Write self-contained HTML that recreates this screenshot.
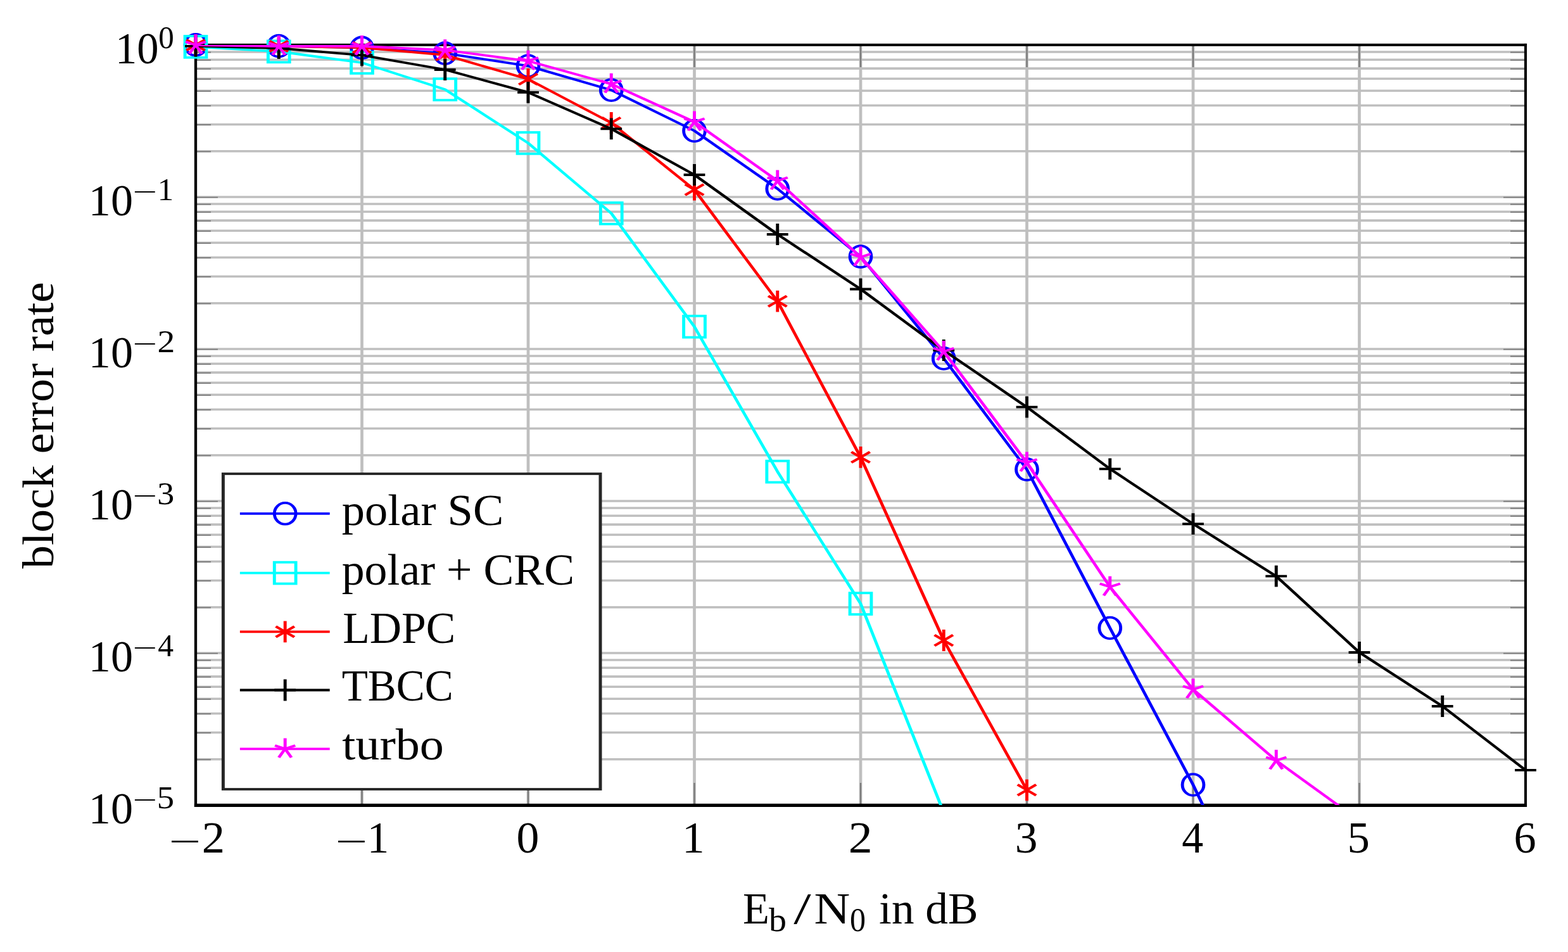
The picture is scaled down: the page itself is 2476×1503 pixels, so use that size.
<!DOCTYPE html><html><head><meta charset="utf-8"><style>html,body{margin:0;padding:0;background:#fff;}svg{display:block;}</style></head><body>
<svg width="2476" height="1503" viewBox="0 0 2476 1503" font-family="'Liberation Serif', serif">
<rect width="2476" height="1503" fill="#fff"/>
<g transform="scale(1.29,1)">
<g stroke="#bfbfbf" stroke-width="3.65">
<line x1="239.535" y1="81.98" x2="1867.442" y2="81.98"/>
<line x1="239.535" y1="94.26" x2="1867.442" y2="94.26"/>
<line x1="239.535" y1="108.18" x2="1867.442" y2="108.18"/>
<line x1="239.535" y1="124.24" x2="1867.442" y2="124.24"/>
<line x1="239.535" y1="143.25" x2="1867.442" y2="143.25"/>
<line x1="239.535" y1="166.51" x2="1867.442" y2="166.51"/>
<line x1="239.535" y1="196.49" x2="1867.442" y2="196.49"/>
<line x1="239.535" y1="238.75" x2="1867.442" y2="238.75"/>
<line x1="239.535" y1="311.00" x2="1867.442" y2="311.00"/>
<line x1="239.535" y1="321.98" x2="1867.442" y2="321.98"/>
<line x1="239.535" y1="334.26" x2="1867.442" y2="334.26"/>
<line x1="239.535" y1="348.18" x2="1867.442" y2="348.18"/>
<line x1="239.535" y1="364.24" x2="1867.442" y2="364.24"/>
<line x1="239.535" y1="383.25" x2="1867.442" y2="383.25"/>
<line x1="239.535" y1="406.51" x2="1867.442" y2="406.51"/>
<line x1="239.535" y1="436.49" x2="1867.442" y2="436.49"/>
<line x1="239.535" y1="478.75" x2="1867.442" y2="478.75"/>
<line x1="239.535" y1="551.00" x2="1867.442" y2="551.00"/>
<line x1="239.535" y1="561.98" x2="1867.442" y2="561.98"/>
<line x1="239.535" y1="574.26" x2="1867.442" y2="574.26"/>
<line x1="239.535" y1="588.18" x2="1867.442" y2="588.18"/>
<line x1="239.535" y1="604.24" x2="1867.442" y2="604.24"/>
<line x1="239.535" y1="623.25" x2="1867.442" y2="623.25"/>
<line x1="239.535" y1="646.51" x2="1867.442" y2="646.51"/>
<line x1="239.535" y1="676.49" x2="1867.442" y2="676.49"/>
<line x1="239.535" y1="718.75" x2="1867.442" y2="718.75"/>
<line x1="239.535" y1="791.00" x2="1867.442" y2="791.00"/>
<line x1="239.535" y1="801.98" x2="1867.442" y2="801.98"/>
<line x1="239.535" y1="814.26" x2="1867.442" y2="814.26"/>
<line x1="239.535" y1="828.18" x2="1867.442" y2="828.18"/>
<line x1="239.535" y1="844.24" x2="1867.442" y2="844.24"/>
<line x1="239.535" y1="863.25" x2="1867.442" y2="863.25"/>
<line x1="239.535" y1="886.51" x2="1867.442" y2="886.51"/>
<line x1="239.535" y1="916.49" x2="1867.442" y2="916.49"/>
<line x1="239.535" y1="958.75" x2="1867.442" y2="958.75"/>
<line x1="239.535" y1="1031.00" x2="1867.442" y2="1031.00"/>
<line x1="239.535" y1="1041.98" x2="1867.442" y2="1041.98"/>
<line x1="239.535" y1="1054.26" x2="1867.442" y2="1054.26"/>
<line x1="239.535" y1="1068.18" x2="1867.442" y2="1068.18"/>
<line x1="239.535" y1="1084.24" x2="1867.442" y2="1084.24"/>
<line x1="239.535" y1="1103.25" x2="1867.442" y2="1103.25"/>
<line x1="239.535" y1="1126.51" x2="1867.442" y2="1126.51"/>
<line x1="239.535" y1="1156.49" x2="1867.442" y2="1156.49"/>
<line x1="239.535" y1="1198.75" x2="1867.442" y2="1198.75"/>
<line x1="443.023" y1="71.0" x2="443.023" y2="1271.0"/>
<line x1="646.512" y1="71.0" x2="646.512" y2="1271.0"/>
<line x1="850.000" y1="71.0" x2="850.000" y2="1271.0"/>
<line x1="1053.488" y1="71.0" x2="1053.488" y2="1271.0"/>
<line x1="1256.977" y1="71.0" x2="1256.977" y2="1271.0"/>
<line x1="1460.465" y1="71.0" x2="1460.465" y2="1271.0"/>
<line x1="1663.953" y1="71.0" x2="1663.953" y2="1271.0"/>
</g>
<g stroke="#7c7c7c" stroke-width="1.9">
<line x1="443.023" y1="1271.0" x2="443.023" y2="1236.0"/>
<line x1="443.023" y1="71.0" x2="443.023" y2="106.0"/>
<line x1="646.512" y1="1271.0" x2="646.512" y2="1236.0"/>
<line x1="646.512" y1="71.0" x2="646.512" y2="106.0"/>
<line x1="850.000" y1="1271.0" x2="850.000" y2="1236.0"/>
<line x1="850.000" y1="71.0" x2="850.000" y2="106.0"/>
<line x1="1053.488" y1="1271.0" x2="1053.488" y2="1236.0"/>
<line x1="1053.488" y1="71.0" x2="1053.488" y2="106.0"/>
<line x1="1256.977" y1="1271.0" x2="1256.977" y2="1236.0"/>
<line x1="1256.977" y1="71.0" x2="1256.977" y2="106.0"/>
<line x1="1460.465" y1="1271.0" x2="1460.465" y2="1236.0"/>
<line x1="1460.465" y1="71.0" x2="1460.465" y2="106.0"/>
<line x1="1663.953" y1="1271.0" x2="1663.953" y2="1236.0"/>
<line x1="1663.953" y1="71.0" x2="1663.953" y2="106.0"/>
<line x1="239.535" y1="239.35" x2="258.140" y2="239.35"/>
<line x1="1867.442" y1="239.35" x2="1848.837" y2="239.35"/>
<line x1="239.535" y1="197.09" x2="258.140" y2="197.09"/>
<line x1="1867.442" y1="197.09" x2="1848.837" y2="197.09"/>
<line x1="239.535" y1="167.11" x2="258.140" y2="167.11"/>
<line x1="1867.442" y1="167.11" x2="1848.837" y2="167.11"/>
<line x1="239.535" y1="143.85" x2="258.140" y2="143.85"/>
<line x1="1867.442" y1="143.85" x2="1848.837" y2="143.85"/>
<line x1="239.535" y1="124.84" x2="258.140" y2="124.84"/>
<line x1="1867.442" y1="124.84" x2="1848.837" y2="124.84"/>
<line x1="239.535" y1="108.78" x2="258.140" y2="108.78"/>
<line x1="1867.442" y1="108.78" x2="1848.837" y2="108.78"/>
<line x1="239.535" y1="94.86" x2="258.140" y2="94.86"/>
<line x1="1867.442" y1="94.86" x2="1848.837" y2="94.86"/>
<line x1="239.535" y1="82.58" x2="258.140" y2="82.58"/>
<line x1="1867.442" y1="82.58" x2="1848.837" y2="82.58"/>
<line x1="239.535" y1="311.60" x2="266.667" y2="311.60"/>
<line x1="1867.442" y1="311.60" x2="1840.310" y2="311.60"/>
<line x1="239.535" y1="479.35" x2="258.140" y2="479.35"/>
<line x1="1867.442" y1="479.35" x2="1848.837" y2="479.35"/>
<line x1="239.535" y1="437.09" x2="258.140" y2="437.09"/>
<line x1="1867.442" y1="437.09" x2="1848.837" y2="437.09"/>
<line x1="239.535" y1="407.11" x2="258.140" y2="407.11"/>
<line x1="1867.442" y1="407.11" x2="1848.837" y2="407.11"/>
<line x1="239.535" y1="383.85" x2="258.140" y2="383.85"/>
<line x1="1867.442" y1="383.85" x2="1848.837" y2="383.85"/>
<line x1="239.535" y1="364.84" x2="258.140" y2="364.84"/>
<line x1="1867.442" y1="364.84" x2="1848.837" y2="364.84"/>
<line x1="239.535" y1="348.78" x2="258.140" y2="348.78"/>
<line x1="1867.442" y1="348.78" x2="1848.837" y2="348.78"/>
<line x1="239.535" y1="334.86" x2="258.140" y2="334.86"/>
<line x1="1867.442" y1="334.86" x2="1848.837" y2="334.86"/>
<line x1="239.535" y1="322.58" x2="258.140" y2="322.58"/>
<line x1="1867.442" y1="322.58" x2="1848.837" y2="322.58"/>
<line x1="239.535" y1="551.60" x2="266.667" y2="551.60"/>
<line x1="1867.442" y1="551.60" x2="1840.310" y2="551.60"/>
<line x1="239.535" y1="719.35" x2="258.140" y2="719.35"/>
<line x1="1867.442" y1="719.35" x2="1848.837" y2="719.35"/>
<line x1="239.535" y1="677.09" x2="258.140" y2="677.09"/>
<line x1="1867.442" y1="677.09" x2="1848.837" y2="677.09"/>
<line x1="239.535" y1="647.11" x2="258.140" y2="647.11"/>
<line x1="1867.442" y1="647.11" x2="1848.837" y2="647.11"/>
<line x1="239.535" y1="623.85" x2="258.140" y2="623.85"/>
<line x1="1867.442" y1="623.85" x2="1848.837" y2="623.85"/>
<line x1="239.535" y1="604.84" x2="258.140" y2="604.84"/>
<line x1="1867.442" y1="604.84" x2="1848.837" y2="604.84"/>
<line x1="239.535" y1="588.78" x2="258.140" y2="588.78"/>
<line x1="1867.442" y1="588.78" x2="1848.837" y2="588.78"/>
<line x1="239.535" y1="574.86" x2="258.140" y2="574.86"/>
<line x1="1867.442" y1="574.86" x2="1848.837" y2="574.86"/>
<line x1="239.535" y1="562.58" x2="258.140" y2="562.58"/>
<line x1="1867.442" y1="562.58" x2="1848.837" y2="562.58"/>
<line x1="239.535" y1="791.60" x2="266.667" y2="791.60"/>
<line x1="1867.442" y1="791.60" x2="1840.310" y2="791.60"/>
<line x1="239.535" y1="959.35" x2="258.140" y2="959.35"/>
<line x1="1867.442" y1="959.35" x2="1848.837" y2="959.35"/>
<line x1="239.535" y1="917.09" x2="258.140" y2="917.09"/>
<line x1="1867.442" y1="917.09" x2="1848.837" y2="917.09"/>
<line x1="239.535" y1="887.11" x2="258.140" y2="887.11"/>
<line x1="1867.442" y1="887.11" x2="1848.837" y2="887.11"/>
<line x1="239.535" y1="863.85" x2="258.140" y2="863.85"/>
<line x1="1867.442" y1="863.85" x2="1848.837" y2="863.85"/>
<line x1="239.535" y1="844.84" x2="258.140" y2="844.84"/>
<line x1="1867.442" y1="844.84" x2="1848.837" y2="844.84"/>
<line x1="239.535" y1="828.78" x2="258.140" y2="828.78"/>
<line x1="1867.442" y1="828.78" x2="1848.837" y2="828.78"/>
<line x1="239.535" y1="814.86" x2="258.140" y2="814.86"/>
<line x1="1867.442" y1="814.86" x2="1848.837" y2="814.86"/>
<line x1="239.535" y1="802.58" x2="258.140" y2="802.58"/>
<line x1="1867.442" y1="802.58" x2="1848.837" y2="802.58"/>
<line x1="239.535" y1="1031.60" x2="266.667" y2="1031.60"/>
<line x1="1867.442" y1="1031.60" x2="1840.310" y2="1031.60"/>
<line x1="239.535" y1="1199.35" x2="258.140" y2="1199.35"/>
<line x1="1867.442" y1="1199.35" x2="1848.837" y2="1199.35"/>
<line x1="239.535" y1="1157.09" x2="258.140" y2="1157.09"/>
<line x1="1867.442" y1="1157.09" x2="1848.837" y2="1157.09"/>
<line x1="239.535" y1="1127.11" x2="258.140" y2="1127.11"/>
<line x1="1867.442" y1="1127.11" x2="1848.837" y2="1127.11"/>
<line x1="239.535" y1="1103.85" x2="258.140" y2="1103.85"/>
<line x1="1867.442" y1="1103.85" x2="1848.837" y2="1103.85"/>
<line x1="239.535" y1="1084.84" x2="258.140" y2="1084.84"/>
<line x1="1867.442" y1="1084.84" x2="1848.837" y2="1084.84"/>
<line x1="239.535" y1="1068.78" x2="258.140" y2="1068.78"/>
<line x1="1867.442" y1="1068.78" x2="1848.837" y2="1068.78"/>
<line x1="239.535" y1="1054.86" x2="258.140" y2="1054.86"/>
<line x1="1867.442" y1="1054.86" x2="1848.837" y2="1054.86"/>
<line x1="239.535" y1="1042.58" x2="258.140" y2="1042.58"/>
<line x1="1867.442" y1="1042.58" x2="1848.837" y2="1042.58"/>
</g>
</g>
<g fill="#000">
<rect x="306.85" y="68.85" width="4.3" height="1205.15"/>
<rect x="2406.95" y="68.85" width="4.1" height="1205.15"/>
<rect x="306.85" y="68.85" width="2104.20" height="4.1"/>
<rect x="306.85" y="1268.8" width="2104.20" height="5.2"/>
</g>
<clipPath id="cb"><rect x="239.535" y="71.0" width="1627.907" height="1200.0"/></clipPath>
<g transform="scale(1.29,1)">
<g clip-path="url(#cb)"><polyline points="239.535,70.80 341.279,72.60 443.023,75.40 544.767,84.10 646.512,104.10 748.256,142.20 850.000,206.50 951.744,298.00 1053.488,405.10 1155.233,565.90 1256.977,741.10 1358.721,991.50 1460.465,1239.00 1562.209,1513.00" fill="none" stroke="#0000ff" stroke-width="3.8" stroke-linejoin="round"/></g>
<ellipse cx="239.535" cy="70.80" rx="13.101" ry="16.90" fill="none" stroke="#0000ff" stroke-width="3.8"/>
<ellipse cx="341.279" cy="72.60" rx="13.101" ry="16.90" fill="none" stroke="#0000ff" stroke-width="3.8"/>
<ellipse cx="443.023" cy="75.40" rx="13.101" ry="16.90" fill="none" stroke="#0000ff" stroke-width="3.8"/>
<ellipse cx="544.767" cy="84.10" rx="13.101" ry="16.90" fill="none" stroke="#0000ff" stroke-width="3.8"/>
<ellipse cx="646.512" cy="104.10" rx="13.101" ry="16.90" fill="none" stroke="#0000ff" stroke-width="3.8"/>
<ellipse cx="748.256" cy="142.20" rx="13.101" ry="16.90" fill="none" stroke="#0000ff" stroke-width="3.8"/>
<ellipse cx="850.000" cy="206.50" rx="13.101" ry="16.90" fill="none" stroke="#0000ff" stroke-width="3.8"/>
<ellipse cx="951.744" cy="298.00" rx="13.101" ry="16.90" fill="none" stroke="#0000ff" stroke-width="3.8"/>
<ellipse cx="1053.488" cy="405.10" rx="13.101" ry="16.90" fill="none" stroke="#0000ff" stroke-width="3.8"/>
<ellipse cx="1155.233" cy="565.90" rx="13.101" ry="16.90" fill="none" stroke="#0000ff" stroke-width="3.8"/>
<ellipse cx="1256.977" cy="741.10" rx="13.101" ry="16.90" fill="none" stroke="#0000ff" stroke-width="3.8"/>
<ellipse cx="1358.721" cy="991.50" rx="13.101" ry="16.90" fill="none" stroke="#0000ff" stroke-width="3.8"/>
<ellipse cx="1460.465" cy="1239.00" rx="13.101" ry="16.90" fill="none" stroke="#0000ff" stroke-width="3.8"/>
<g clip-path="url(#cb)"><polyline points="239.535,73.90 341.279,81.40 443.023,99.00 544.767,141.20 646.512,225.90 748.256,336.80 850.000,515.70 951.744,744.60 1053.488,953.10 1155.233,1283.00" fill="none" stroke="#00ffff" stroke-width="3.8" stroke-linejoin="round"/></g>
<rect x="226.434" y="57.00" width="26.202" height="33.80" fill="none" stroke="#00ffff" stroke-width="3.8"/>
<rect x="328.178" y="64.50" width="26.202" height="33.80" fill="none" stroke="#00ffff" stroke-width="3.8"/>
<rect x="429.922" y="82.10" width="26.202" height="33.80" fill="none" stroke="#00ffff" stroke-width="3.8"/>
<rect x="531.667" y="124.30" width="26.202" height="33.80" fill="none" stroke="#00ffff" stroke-width="3.8"/>
<rect x="633.411" y="209.00" width="26.202" height="33.80" fill="none" stroke="#00ffff" stroke-width="3.8"/>
<rect x="735.155" y="319.90" width="26.202" height="33.80" fill="none" stroke="#00ffff" stroke-width="3.8"/>
<rect x="836.899" y="498.80" width="26.202" height="33.80" fill="none" stroke="#00ffff" stroke-width="3.8"/>
<rect x="938.643" y="727.70" width="26.202" height="33.80" fill="none" stroke="#00ffff" stroke-width="3.8"/>
<rect x="1040.388" y="936.20" width="26.202" height="33.80" fill="none" stroke="#00ffff" stroke-width="3.8"/>
<g clip-path="url(#cb)"><polyline points="239.535,71.10 341.279,73.00 443.023,75.00 544.767,86.90 646.512,125.00 748.256,194.00 850.000,299.50 951.744,475.60 1053.488,721.90 1155.233,1011.00 1256.977,1247.30" fill="none" stroke="#ff0000" stroke-width="3.8" stroke-linejoin="round"/></g>
<path d="M239.535,71.10L250.880,62.65M239.535,71.10L239.535,54.20M239.535,71.10L228.189,62.65M239.535,71.10L228.189,79.55M239.535,71.10L239.535,88.00M239.535,71.10L250.880,79.55" stroke="#ff0000" stroke-width="3.8" fill="none"/>
<path d="M341.279,73.00L352.625,64.55M341.279,73.00L341.279,56.10M341.279,73.00L329.933,64.55M341.279,73.00L329.933,81.45M341.279,73.00L341.279,89.90M341.279,73.00L352.625,81.45" stroke="#ff0000" stroke-width="3.8" fill="none"/>
<path d="M443.023,75.00L454.369,66.55M443.023,75.00L443.023,58.10M443.023,75.00L431.678,66.55M443.023,75.00L431.678,83.45M443.023,75.00L443.023,91.90M443.023,75.00L454.369,83.45" stroke="#ff0000" stroke-width="3.8" fill="none"/>
<path d="M544.767,86.90L556.113,78.45M544.767,86.90L544.767,70.00M544.767,86.90L533.422,78.45M544.767,86.90L533.422,95.35M544.767,86.90L544.767,103.80M544.767,86.90L556.113,95.35" stroke="#ff0000" stroke-width="3.8" fill="none"/>
<path d="M646.512,125.00L657.857,116.55M646.512,125.00L646.512,108.10M646.512,125.00L635.166,116.55M646.512,125.00L635.166,133.45M646.512,125.00L646.512,141.90M646.512,125.00L657.857,133.45" stroke="#ff0000" stroke-width="3.8" fill="none"/>
<path d="M748.256,194.00L759.601,185.55M748.256,194.00L748.256,177.10M748.256,194.00L736.910,185.55M748.256,194.00L736.910,202.45M748.256,194.00L748.256,210.90M748.256,194.00L759.601,202.45" stroke="#ff0000" stroke-width="3.8" fill="none"/>
<path d="M850.000,299.50L861.346,291.05M850.000,299.50L850.000,282.60M850.000,299.50L838.654,291.05M850.000,299.50L838.654,307.95M850.000,299.50L850.000,316.40M850.000,299.50L861.346,307.95" stroke="#ff0000" stroke-width="3.8" fill="none"/>
<path d="M951.744,475.60L963.090,467.15M951.744,475.60L951.744,458.70M951.744,475.60L940.399,467.15M951.744,475.60L940.399,484.05M951.744,475.60L951.744,492.50M951.744,475.60L963.090,484.05" stroke="#ff0000" stroke-width="3.8" fill="none"/>
<path d="M1053.488,721.90L1064.834,713.45M1053.488,721.90L1053.488,705.00M1053.488,721.90L1042.143,713.45M1053.488,721.90L1042.143,730.35M1053.488,721.90L1053.488,738.80M1053.488,721.90L1064.834,730.35" stroke="#ff0000" stroke-width="3.8" fill="none"/>
<path d="M1155.233,1011.00L1166.578,1002.55M1155.233,1011.00L1155.233,994.10M1155.233,1011.00L1143.887,1002.55M1155.233,1011.00L1143.887,1019.45M1155.233,1011.00L1155.233,1027.90M1155.233,1011.00L1166.578,1019.45" stroke="#ff0000" stroke-width="3.8" fill="none"/>
<path d="M1256.977,1247.30L1268.322,1238.85M1256.977,1247.30L1256.977,1230.40M1256.977,1247.30L1245.631,1238.85M1256.977,1247.30L1245.631,1255.75M1256.977,1247.30L1256.977,1264.20M1256.977,1247.30L1268.322,1255.75" stroke="#ff0000" stroke-width="3.8" fill="none"/>
<g clip-path="url(#cb)"><polyline points="239.535,72.90 341.279,76.10 443.023,87.20 544.767,110.00 646.512,145.90 748.256,203.40 850.000,276.00 951.744,370.00 1053.488,456.50 1155.233,553.00 1256.977,642.70 1358.721,740.30 1460.465,827.10 1562.209,909.70 1663.953,1030.00 1765.698,1115.00 1867.442,1215.90" fill="none" stroke="#000000" stroke-width="3.8" stroke-linejoin="round"/></g>
<path d="M239.535,72.90L252.636,72.90M239.535,72.90L239.535,56.00M239.535,72.90L226.434,72.90M239.535,72.90L239.535,89.80" stroke="#000000" stroke-width="3.8" fill="none"/>
<path d="M341.279,76.10L354.380,76.10M341.279,76.10L341.279,59.20M341.279,76.10L328.178,76.10M341.279,76.10L341.279,93.00" stroke="#000000" stroke-width="3.8" fill="none"/>
<path d="M443.023,87.20L456.124,87.20M443.023,87.20L443.023,70.30M443.023,87.20L429.922,87.20M443.023,87.20L443.023,104.10" stroke="#000000" stroke-width="3.8" fill="none"/>
<path d="M544.767,110.00L557.868,110.00M544.767,110.00L544.767,93.10M544.767,110.00L531.667,110.00M544.767,110.00L544.767,126.90" stroke="#000000" stroke-width="3.8" fill="none"/>
<path d="M646.512,145.90L659.612,145.90M646.512,145.90L646.512,129.00M646.512,145.90L633.411,145.90M646.512,145.90L646.512,162.80" stroke="#000000" stroke-width="3.8" fill="none"/>
<path d="M748.256,203.40L761.357,203.40M748.256,203.40L748.256,186.50M748.256,203.40L735.155,203.40M748.256,203.40L748.256,220.30" stroke="#000000" stroke-width="3.8" fill="none"/>
<path d="M850.000,276.00L863.101,276.00M850.000,276.00L850.000,259.10M850.000,276.00L836.899,276.00M850.000,276.00L850.000,292.90" stroke="#000000" stroke-width="3.8" fill="none"/>
<path d="M951.744,370.00L964.845,370.00M951.744,370.00L951.744,353.10M951.744,370.00L938.643,370.00M951.744,370.00L951.744,386.90" stroke="#000000" stroke-width="3.8" fill="none"/>
<path d="M1053.488,456.50L1066.589,456.50M1053.488,456.50L1053.488,439.60M1053.488,456.50L1040.388,456.50M1053.488,456.50L1053.488,473.40" stroke="#000000" stroke-width="3.8" fill="none"/>
<path d="M1155.233,553.00L1168.333,553.00M1155.233,553.00L1155.233,536.10M1155.233,553.00L1142.132,553.00M1155.233,553.00L1155.233,569.90" stroke="#000000" stroke-width="3.8" fill="none"/>
<path d="M1256.977,642.70L1270.078,642.70M1256.977,642.70L1256.977,625.80M1256.977,642.70L1243.876,642.70M1256.977,642.70L1256.977,659.60" stroke="#000000" stroke-width="3.8" fill="none"/>
<path d="M1358.721,740.30L1371.822,740.30M1358.721,740.30L1358.721,723.40M1358.721,740.30L1345.620,740.30M1358.721,740.30L1358.721,757.20" stroke="#000000" stroke-width="3.8" fill="none"/>
<path d="M1460.465,827.10L1473.566,827.10M1460.465,827.10L1460.465,810.20M1460.465,827.10L1447.364,827.10M1460.465,827.10L1460.465,844.00" stroke="#000000" stroke-width="3.8" fill="none"/>
<path d="M1562.209,909.70L1575.310,909.70M1562.209,909.70L1562.209,892.80M1562.209,909.70L1549.109,909.70M1562.209,909.70L1562.209,926.60" stroke="#000000" stroke-width="3.8" fill="none"/>
<path d="M1663.953,1030.00L1677.054,1030.00M1663.953,1030.00L1663.953,1013.10M1663.953,1030.00L1650.853,1030.00M1663.953,1030.00L1663.953,1046.90" stroke="#000000" stroke-width="3.8" fill="none"/>
<path d="M1765.698,1115.00L1778.798,1115.00M1765.698,1115.00L1765.698,1098.10M1765.698,1115.00L1752.597,1115.00M1765.698,1115.00L1765.698,1131.90" stroke="#000000" stroke-width="3.8" fill="none"/>
<path d="M1867.442,1215.90L1880.543,1215.90M1867.442,1215.90L1854.341,1215.90" stroke="#000000" stroke-width="3.8" fill="none"/>
<g clip-path="url(#cb)"><polyline points="239.535,71.10 341.279,73.00 443.023,73.00 544.767,79.10 646.512,96.30 748.256,132.70 850.000,192.50 951.744,285.50 1053.488,405.90 1155.233,555.00 1256.977,730.50 1358.721,926.60 1460.465,1088.40 1562.209,1200.70 1663.953,1295.60" fill="none" stroke="#ff00ff" stroke-width="3.8" stroke-linejoin="round"/></g>
<path d="M239.535,71.10L239.535,54.20M239.535,71.10L227.075,65.88M239.535,71.10L231.834,84.77M239.535,71.10L247.235,84.77M239.535,71.10L251.994,65.88" stroke="#ff00ff" stroke-width="3.8" fill="none"/>
<path d="M341.279,73.00L341.279,56.10M341.279,73.00L328.819,67.78M341.279,73.00L333.579,86.67M341.279,73.00L348.980,86.67M341.279,73.00L353.739,67.78" stroke="#ff00ff" stroke-width="3.8" fill="none"/>
<path d="M443.023,73.00L443.023,56.10M443.023,73.00L430.564,67.78M443.023,73.00L435.323,86.67M443.023,73.00L450.724,86.67M443.023,73.00L455.483,67.78" stroke="#ff00ff" stroke-width="3.8" fill="none"/>
<path d="M544.767,79.10L544.767,62.20M544.767,79.10L532.308,73.88M544.767,79.10L537.067,92.77M544.767,79.10L552.468,92.77M544.767,79.10L557.227,73.88" stroke="#ff00ff" stroke-width="3.8" fill="none"/>
<path d="M646.512,96.30L646.512,79.40M646.512,96.30L634.052,91.08M646.512,96.30L638.811,109.97M646.512,96.30L654.212,109.97M646.512,96.30L658.971,91.08" stroke="#ff00ff" stroke-width="3.8" fill="none"/>
<path d="M748.256,132.70L748.256,115.80M748.256,132.70L735.796,127.48M748.256,132.70L740.555,146.37M748.256,132.70L755.956,146.37M748.256,132.70L760.715,127.48" stroke="#ff00ff" stroke-width="3.8" fill="none"/>
<path d="M850.000,192.50L850.000,175.60M850.000,192.50L837.540,187.28M850.000,192.50L842.300,206.17M850.000,192.50L857.700,206.17M850.000,192.50L862.460,187.28" stroke="#ff00ff" stroke-width="3.8" fill="none"/>
<path d="M951.744,285.50L951.744,268.60M951.744,285.50L939.285,280.28M951.744,285.50L944.044,299.17M951.744,285.50L959.445,299.17M951.744,285.50L964.204,280.28" stroke="#ff00ff" stroke-width="3.8" fill="none"/>
<path d="M1053.488,405.90L1053.488,389.00M1053.488,405.90L1041.029,400.68M1053.488,405.90L1045.788,419.57M1053.488,405.90L1061.189,419.57M1053.488,405.90L1065.948,400.68" stroke="#ff00ff" stroke-width="3.8" fill="none"/>
<path d="M1155.233,555.00L1155.233,538.10M1155.233,555.00L1142.773,549.78M1155.233,555.00L1147.532,568.67M1155.233,555.00L1162.933,568.67M1155.233,555.00L1167.692,549.78" stroke="#ff00ff" stroke-width="3.8" fill="none"/>
<path d="M1256.977,730.50L1256.977,713.60M1256.977,730.50L1244.517,725.28M1256.977,730.50L1249.276,744.17M1256.977,730.50L1264.677,744.17M1256.977,730.50L1269.436,725.28" stroke="#ff00ff" stroke-width="3.8" fill="none"/>
<path d="M1358.721,926.60L1358.721,909.70M1358.721,926.60L1346.261,921.38M1358.721,926.60L1351.020,940.27M1358.721,926.60L1366.421,940.27M1358.721,926.60L1371.181,921.38" stroke="#ff00ff" stroke-width="3.8" fill="none"/>
<path d="M1460.465,1088.40L1460.465,1071.50M1460.465,1088.40L1448.006,1083.18M1460.465,1088.40L1452.765,1102.07M1460.465,1088.40L1468.166,1102.07M1460.465,1088.40L1472.925,1083.18" stroke="#ff00ff" stroke-width="3.8" fill="none"/>
<path d="M1562.209,1200.70L1562.209,1183.80M1562.209,1200.70L1549.750,1195.48M1562.209,1200.70L1554.509,1214.37M1562.209,1200.70L1569.910,1214.37M1562.209,1200.70L1574.669,1195.48" stroke="#ff00ff" stroke-width="3.8" fill="none"/>
</g>
<text x="815.47" y="1346.20" font-size="69.5" textLength="35.86" lengthAdjust="spacingAndGlyphs">0</text>
<text x="1077.08" y="1346.20" font-size="69.5" textLength="35.65" lengthAdjust="spacingAndGlyphs">1</text>
<text x="1339.87" y="1346.20" font-size="69.5" textLength="37.92" lengthAdjust="spacingAndGlyphs">2</text>
<text x="1602.73" y="1346.20" font-size="69.5" textLength="35.71" lengthAdjust="spacingAndGlyphs">3</text>
<text x="1866.33" y="1346.20" font-size="69.5" textLength="33.88" lengthAdjust="spacingAndGlyphs">4</text>
<text x="2127.54" y="1346.20" font-size="69.5" textLength="35.37" lengthAdjust="spacingAndGlyphs">5</text>
<text x="2390.38" y="1346.20" font-size="69.5" textLength="35.11" lengthAdjust="spacingAndGlyphs">6</text>
<text x="266.62" y="1347.66" font-size="58" textLength="50.78" lengthAdjust="spacingAndGlyphs">−</text>
<text x="318.71" y="1346.20" font-size="69.5" textLength="36.30" lengthAdjust="spacingAndGlyphs">2</text>
<text x="529.62" y="1347.66" font-size="58" textLength="50.78" lengthAdjust="spacingAndGlyphs">−</text>
<text x="579.63" y="1346.20" font-size="69.5" textLength="34.51" lengthAdjust="spacingAndGlyphs">1</text>
<text x="181.88" y="99.90" font-size="69.5" textLength="68.53" lengthAdjust="spacingAndGlyphs">10</text>
<text x="250.23" y="76.00" font-size="51.7" textLength="24.54" lengthAdjust="spacingAndGlyphs">0</text>
<text x="139.84" y="339.80" font-size="69.5" textLength="70.14" lengthAdjust="spacingAndGlyphs">10</text>
<text x="209.59" y="316.70" font-size="42" textLength="38.66" lengthAdjust="spacingAndGlyphs">−</text>
<text x="248.63" y="315.90" font-size="51.7" textLength="25.42" lengthAdjust="spacingAndGlyphs">1</text>
<text x="139.84" y="579.80" font-size="69.5" textLength="70.14" lengthAdjust="spacingAndGlyphs">10</text>
<text x="209.59" y="556.70" font-size="42" textLength="38.66" lengthAdjust="spacingAndGlyphs">−</text>
<text x="248.46" y="555.90" font-size="51.7" textLength="27.81" lengthAdjust="spacingAndGlyphs">2</text>
<text x="139.84" y="819.80" font-size="69.5" textLength="70.14" lengthAdjust="spacingAndGlyphs">10</text>
<text x="209.59" y="796.70" font-size="42" textLength="38.66" lengthAdjust="spacingAndGlyphs">−</text>
<text x="248.32" y="795.90" font-size="51.7" textLength="26.99" lengthAdjust="spacingAndGlyphs">3</text>
<text x="139.84" y="1059.80" font-size="69.5" textLength="70.14" lengthAdjust="spacingAndGlyphs">10</text>
<text x="209.59" y="1036.70" font-size="42" textLength="38.66" lengthAdjust="spacingAndGlyphs">−</text>
<text x="249.13" y="1035.90" font-size="51.7" textLength="24.85" lengthAdjust="spacingAndGlyphs">4</text>
<text x="139.84" y="1299.80" font-size="69.5" textLength="70.14" lengthAdjust="spacingAndGlyphs">10</text>
<text x="209.59" y="1276.70" font-size="42" textLength="38.66" lengthAdjust="spacingAndGlyphs">−</text>
<text x="247.83" y="1275.90" font-size="51.7" textLength="27.31" lengthAdjust="spacingAndGlyphs">5</text>
<text x="1173.02" y="1457.50" font-size="69.5" textLength="41.89" lengthAdjust="spacingAndGlyphs">E</text>
<text x="1214.00" y="1470.30" font-size="52" textLength="27.93" lengthAdjust="spacingAndGlyphs">b</text>
<text x="1253.20" y="1457.50" font-size="69.5" textLength="27.40" lengthAdjust="spacingAndGlyphs">/</text>
<text x="1285.54" y="1457.50" font-size="69.5" textLength="56.77" lengthAdjust="spacingAndGlyphs">N</text>
<text x="1341.89" y="1470.30" font-size="52" textLength="25.01" lengthAdjust="spacingAndGlyphs">0</text>
<text x="1388.10" y="1457.50" font-size="69.5" textLength="156.37" lengthAdjust="spacingAndGlyphs">in dB</text>
<text transform="translate(84.0,897.80) rotate(-90)" x="0.00" y="0" font-size="69.5" textLength="452.75" lengthAdjust="spacingAndGlyphs">block error rate</text>
<g transform="scale(1.29,1)"><rect x="273.178" y="748.0" width="461.705" height="498.0" fill="#fff" stroke="#262626" stroke-width="3.85"/></g>
<g transform="scale(1.29,1)"><line x1="293.721" y1="810.8" x2="403.643" y2="810.8" stroke="#0000ff" stroke-width="3.8"/><ellipse cx="348.992" cy="810.80" rx="13.101" ry="16.90" fill="none" stroke="#0000ff" stroke-width="3.8"/></g>
<text x="539.73" y="828.80" font-size="69.5" textLength="255.46" lengthAdjust="spacingAndGlyphs">polar SC</text>
<g transform="scale(1.29,1)"><line x1="293.721" y1="904.6" x2="403.643" y2="904.6" stroke="#00ffff" stroke-width="3.8"/><rect x="335.891" y="887.70" width="26.202" height="33.80" fill="none" stroke="#00ffff" stroke-width="3.8"/></g>
<text x="539.74" y="922.70" font-size="69.5" textLength="367.31" lengthAdjust="spacingAndGlyphs">polar + CRC</text>
<g transform="scale(1.29,1)"><line x1="293.721" y1="997.4" x2="403.643" y2="997.4" stroke="#ff0000" stroke-width="3.8"/><path d="M348.992,997.40L360.338,988.95M348.992,997.40L348.992,980.50M348.992,997.40L337.647,988.95M348.992,997.40L337.647,1005.85M348.992,997.40L348.992,1014.30M348.992,997.40L360.338,1005.85" stroke="#ff0000" stroke-width="3.8" fill="none"/></g>
<text x="541.29" y="1014.80" font-size="69.5" textLength="177.95" lengthAdjust="spacingAndGlyphs">LDPC</text>
<g transform="scale(1.29,1)"><line x1="293.721" y1="1089.5" x2="403.643" y2="1089.5" stroke="#000000" stroke-width="3.8"/><path d="M348.992,1089.50L362.093,1089.50M348.992,1089.50L348.992,1072.60M348.992,1089.50L335.891,1089.50M348.992,1089.50L348.992,1106.40" stroke="#000000" stroke-width="3.8" fill="none"/></g>
<text x="539.68" y="1106.20" font-size="69.5" textLength="176.04" lengthAdjust="spacingAndGlyphs">TBCC</text>
<g transform="scale(1.29,1)"><line x1="293.721" y1="1182.3" x2="403.643" y2="1182.3" stroke="#ff00ff" stroke-width="3.8"/><path d="M348.992,1182.30L348.992,1165.40M348.992,1182.30L336.533,1177.08M348.992,1182.30L341.292,1195.97M348.992,1182.30L356.693,1195.97M348.992,1182.30L361.452,1177.08" stroke="#ff00ff" stroke-width="3.8" fill="none"/></g>
<text x="540.16" y="1199.00" font-size="69.5" textLength="160.74" lengthAdjust="spacingAndGlyphs">turbo</text>
</svg></body></html>
